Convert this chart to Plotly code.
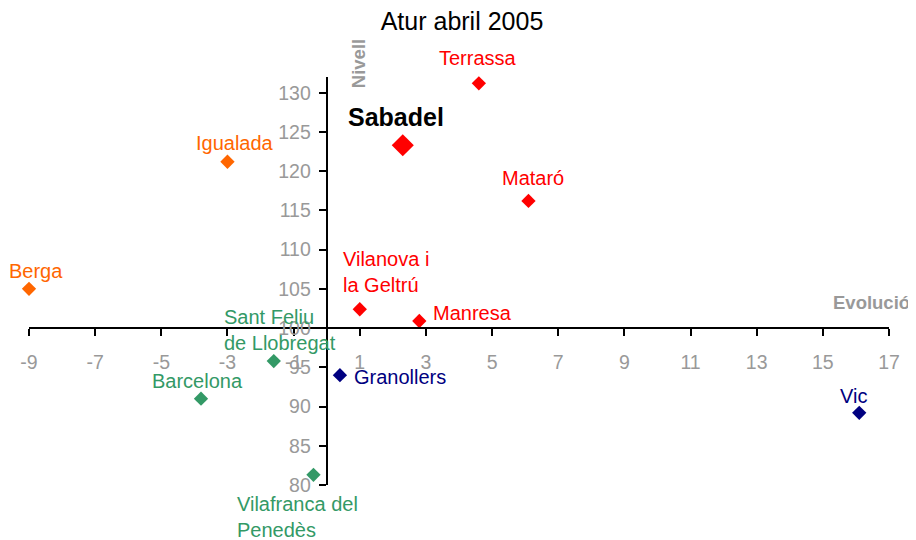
import plotly.graph_objects as go

# ---- data ----
cities = ["Terrassa", "Sabadel", "Mataró", "Vilanova i<br>la Geltrú", "Manresa",
          "Igualada", "Berga", "Sant Feliu<br>de Llobregat", "Barcelona",
          "Vilafranca del<br>Penedès", "Granollers", "Vic"]
evolucio = [4.6, 2.3, 6.1, 1.0, 2.8, -3.0, -9.0, -1.6, -3.8, -0.4, 0.4, 16.1]
nivell = [131.2, 123.3, 116.2, 102.4, 100.9, 121.2, 105.0, 95.8, 91.0, 81.3, 94.0, 89.2]
groups = ["a", "h", "a", "a", "a", "b", "b", "c", "c", "c", "d", "d"]

x_ticks = list(range(-9, 18, 2))
x_tick_labels = [str(v) for v in x_ticks]
y_ticks = list(range(80, 131, 5))
y_tick_labels = [str(v) for v in y_ticks]
x_range = [-9, 17]
y_range = [80, 132]

# ---- styles ----
FONT = "Liberation Sans, Arial, sans-serif"
OFF = 8  # page body offset compensation
colors = {"a": "#FF0000", "h": "#FF0000", "b": "#FF6600", "c": "#339966", "d": "#000080"}
label_colors = {"a": "#FF0000", "h": "#000000", "b": "#FF6600", "c": "#339966", "d": "#000080"}
# label placement: (xanchor, yanchor, xshift, yshift)
label_pos = [
    ("center", "middle", -1, 25),
    ("center", "middle", -7, 28),
    ("center", "middle", 5, 23),
    ("left", "middle", -19, 37),
    ("left", "middle", 12, 8),
    ("center", "middle", 8, 19),
    ("center", "middle", 7, 18),
    ("left", "middle", -52, 31),
    ("center", "middle", -4, 18),
    ("left", "middle", -78, -42),
    ("left", "middle", 12, -2),
    ("center", "middle", -6, 17),
]

fig = go.Figure()
fig.add_trace(go.Scatter(
    x=evolucio, y=nivell, mode="markers", cliponaxis=False,
    marker=dict(symbol="diamond", opacity=1,
                size=[17 if g == "h" else 11 for g in groups],
                color=[colors[g] for g in groups], line=dict(width=0)),
    hoverinfo="text", text=[c.replace("<br>", " ") for c in cities],
    showlegend=False,
))

for name, xv, yv, g, (xa, ya, dx, dy) in zip(cities, evolucio, nivell, groups, label_pos):
    fig.add_annotation(
        x=xv, y=yv, text=name, showarrow=False,
        xanchor=xa, yanchor=ya, align="left" if xa == "left" else "center",
        xshift=dx, yshift=dy,
        font=dict(family=FONT, size=25 if g == "h" else 20, color=label_colors[g],
                  weight="bold" if g == "h" else "normal"),
    )

axis_common = dict(showline=True, linecolor="black", linewidth=2, showgrid=False,
                   zeroline=False, ticks="outside", ticklen=7, tickwidth=2,
                   tickcolor="black", anchor="free",
                   tickfont=dict(family=FONT, size=19.5, color="#999999"))

fig.update_xaxes(range=x_range, tickvals=x_ticks, ticktext=x_tick_labels,
                 position=(100 - y_range[0]) / (y_range[1] - y_range[0]),
                 ticklabelstandoff=10, **axis_common)
fig.update_yaxes(range=y_range, tickvals=y_ticks, ticktext=y_tick_labels,
                 position=(0 - x_range[0]) / (x_range[1] - x_range[0]),
                 ticklabelstandoff=4, **axis_common)

fig.add_annotation(x=0, y=1, xref="x", yref="paper", text="Nivell", textangle=-90,
                   showarrow=False, xanchor="center", yanchor="bottom", xshift=32, yshift=-13,
                   font=dict(family=FONT, size=18.5, color="#999999", weight="bold"))
fig.add_annotation(x=1, y=100, xref="paper", yref="y", text="Evolució",
                   showarrow=False, xanchor="right", yanchor="middle", xshift=23, yshift=26,
                   font=dict(family=FONT, size=18.5, color="#999999", weight="bold"))

W, H = 916 - OFF, 540 - OFF
fig.update_layout(
    width=W, height=H,
    margin=dict(l=29 - OFF, r=27, t=77 - OFF, b=55),
    paper_bgcolor="white", plot_bgcolor="white",
    title=dict(text="Atur abril 2005", x=(462 - OFF) / W, xanchor="center",
               y=1 - (21 - OFF) / H, yanchor="middle", yref="container",
               font=dict(family=FONT, size=25, color="black")),
)

fig.write_html("out.html")
